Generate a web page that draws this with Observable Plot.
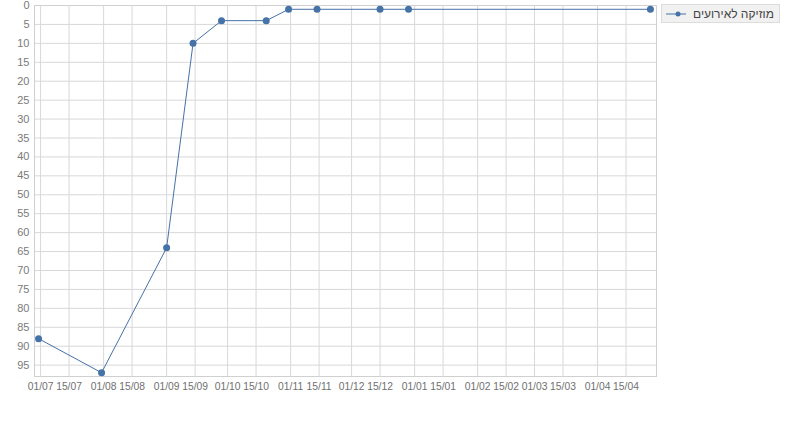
<!DOCTYPE html>
<html>
<head>
<meta charset="utf-8">
<script src="https://cdn.jsdelivr.net/npm/d3@7"></script>
<script src="https://cdn.jsdelivr.net/npm/@observablehq/plot@0.6"></script>
<style>
  html, body { margin: 0; padding: 0; background: #fff; }
  #wrap { position: relative; width: 800px; height: 421px; overflow: hidden; }
  #legend {
    position: absolute; left: 661px; top: 4px; width: 119px; height: 19px;
    background: #f1f1f1; border: 1px solid #dcdcdc; box-sizing: border-box;
    font-family: "Liberation Sans", Arial, sans-serif; font-size: 12px; color: #444;
    display: flex; align-items: center; padding: 0 4px;
  }
  #legend svg { flex: none; }
  #legend span { direction: rtl; margin-left: 5px; white-space: nowrap; }
  .xax text { font-size: 10.3px; }
</style>
</head>
<body>
<div id="wrap"></div>
<script>
const seriesName = "מוזיקה לאירועים";
const dates = ["2012-06-30","2012-07-31","2012-09-01","2012-09-14","2012-09-28","2012-10-20","2012-10-31","2012-11-14","2012-12-15","2012-12-29","2013-04-27"];
const ranks = [88, 97, 64, 10, 4, 4, 1, 1, 1, 1, 1];
const yTicks = d3.range(0, 100, 5);
const xTickDates = ["2012-07-01","2012-07-15","2012-08-01","2012-08-15","2012-09-01","2012-09-15","2012-10-01","2012-10-15","2012-11-01","2012-11-15","2012-12-01","2012-12-15","2013-01-01","2013-01-15","2013-02-01","2013-02-15","2013-03-01","2013-03-15","2013-04-01","2013-04-15"];

const parse = d3.utcParse("%Y-%m-%d");
const data = dates.map((d, i) => ({date: parse(d), rank: ranks[i]}));
const xTicks = xTickDates.map(parse);
const color = "#4572A7";

const chart = Plot.plot({
  width: 800,
  height: 421,
  marginLeft: 34,
  marginRight: 144,
  marginTop: 5,
  marginBottom: 45,
  style: {fontFamily: "'Liberation Sans', Arial, sans-serif", fontSize: "11px", color: "#7a7a7a", background: "transparent", overflow: "visible"},
  x: {type: "utc", domain: [parse("2012-06-28"), parse("2013-04-30")], label: null},
  y: {domain: [0, 98], reverse: true, label: null},
  marks: [
    Plot.gridX(xTicks, {stroke: "#d8d8d8", strokeOpacity: 1}),
    Plot.gridY(yTicks, {stroke: "#d8d8d8", strokeOpacity: 1}),
    Plot.frame({stroke: "#d0d0d0"}),
    Plot.axisX(xTicks, {tickFormat: d3.utcFormat("%d/%m"), tickSize: 0, tickPadding: 6, className: "xax", fill: "#707070"}),
    Plot.axisY(yTicks, {tickSize: 0, tickPadding: 5, fill: "#7a7a7a"}),
    Plot.line(data, {x: "date", y: "rank", stroke: color, strokeWidth: 1}),
    Plot.dot(data, {x: "date", y: "rank", fill: color, r: 3.5})
  ]
});
document.getElementById("wrap").appendChild(chart);

const legend = document.createElement("div");
legend.id = "legend";
legend.innerHTML = `<svg width="22" height="8"><line x1="0" y1="4" x2="20" y2="4" stroke="${color}" stroke-width="1"/><circle cx="12" cy="4" r="2.5" fill="${color}"/></svg><span></span>`;
legend.querySelector("span").textContent = seriesName;
document.getElementById("wrap").appendChild(legend);
</script>
</body>
</html>
